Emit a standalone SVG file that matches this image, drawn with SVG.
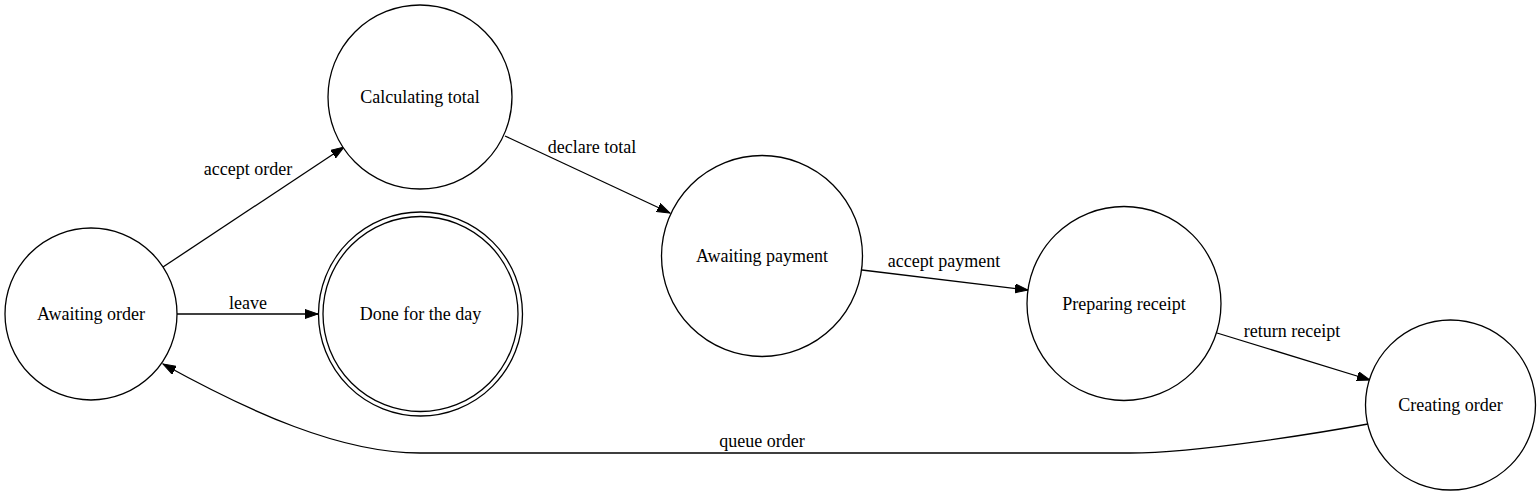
<svg xmlns="http://www.w3.org/2000/svg" width="1540" height="495" viewBox="0 0 1540 495">
<defs>
<marker id="arr" markerWidth="14" markerHeight="10" refX="13" refY="5" orient="auto" markerUnits="userSpaceOnUse">
<path d="M0,0.5 L13,5 L0,9.5 z" fill="#000" stroke="#000" stroke-width="1"/>
</marker>
</defs>
<style>
.n{fill:#fff;stroke:#000;stroke-width:1.3}
.t{font-family:'Liberation Serif','Times New Roman','DejaVu Serif',serif;font-size:18px;text-anchor:middle;fill:#000}
.e{fill:none;stroke:#000;stroke-width:1.3;marker-end:url(#arr)}
</style>
<rect width="1540" height="495" fill="#fff"/>
<g id="connectors">
<path class="e" d="M163,267 L344,147"/>
<text class="t" x="248" y="175" font-family="Liberation Serif, serif">accept order</text>
<path class="e" d="M505,136 L670,213"/>
<text class="t" x="592" y="153" font-family="Liberation Serif, serif">declare total</text>
<path class="e" d="M177,314 L318,314"/>
<text class="t" x="248" y="309" font-family="Liberation Serif, serif">leave</text>
<path class="e" d="M862,270 L1028,290"/>
<text class="t" x="944" y="267" font-family="Liberation Serif, serif">accept payment</text>
<path class="e" d="M1217,333 L1370,380"/>
<text class="t" x="1292" y="337" font-family="Liberation Serif, serif">return receipt</text>
<path class="e" d="M1368,424 C1330,431 1200,453 1130,453 L420,453 C340,453 250,412 163,364"/>
<text class="t" x="762" y="447" font-family="Liberation Serif, serif">queue order</text>
</g>
<g id="awaiting-order">
<circle class="n" cx="91" cy="314" r="86"/>
<text class="t" x="91" y="320" font-family="Liberation Serif, serif">Awaiting order</text>
</g>
<g id="calculating-total">
<circle class="n" cx="420" cy="97" r="92"/>
<text class="t" x="420" y="103" font-family="Liberation Serif, serif">Calculating total</text>
</g>
<g id="done-for-the-day">
<circle class="n" cx="420.5" cy="314" r="102"/>
<circle class="n" cx="420.5" cy="314" r="97.5"/>
<text class="t" x="420.5" y="320" font-family="Liberation Serif, serif">Done for the day</text>
</g>
<g id="awaiting-payment">
<circle class="n" cx="762" cy="256" r="100.5"/>
<text class="t" x="762" y="262" font-family="Liberation Serif, serif">Awaiting payment</text>
</g>
<g id="preparing-receipt">
<circle class="n" cx="1124" cy="303.5" r="97"/>
<text class="t" x="1124" y="309.5" font-family="Liberation Serif, serif">Preparing receipt</text>
</g>
<g id="creating-order">
<circle class="n" cx="1450.5" cy="405" r="85"/>
<text class="t" x="1450.5" y="411" font-family="Liberation Serif, serif">Creating order</text>
</g>
</svg>
